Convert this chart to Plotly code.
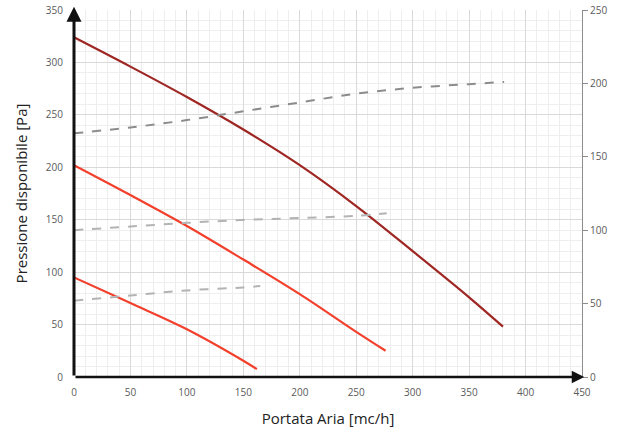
import plotly.graph_objects as go

# Pressure curves (left axis, Pa)
x_high = [0, 50, 100, 150, 200, 250, 300, 350, 380]
p_high = [324, 296, 267, 236, 202, 163, 120, 76, 48]

x_mid = [0, 50, 100, 150, 200, 250, 276]
p_mid = [202, 173.5, 144, 112, 79, 43, 25]

x_low = [0, 50, 100, 150, 162]
p_low = [95, 70.5, 45.5, 15.5, 7.5]

# Dashed curves (right axis)
x_d_high = [0, 50, 100, 150, 200, 250, 300, 350, 381]
d_high = [166, 170, 175, 181, 187, 193, 197, 199.5, 201]

x_d_mid = [0, 50, 100, 150, 200, 250, 277]
d_mid = [100, 102.5, 105, 107, 108.3, 109.8, 111.5]

x_d_low = [0, 50, 100, 150, 165]
d_low = [52, 55.5, 59, 61, 62]

x_ticks = [0, 50, 100, 150, 200, 250, 300, 350, 400, 450]
y_ticks = [0, 50, 100, 150, 200, 250, 300, 350]
y2_ticks = [0, 50, 100, 150, 200, 250]

DARK = "#9e2623"
RED = "#f2402c"

fig = go.Figure()

fig.add_trace(go.Scatter(x=x_d_high, y=d_high, yaxis="y2", mode="lines",
                         line=dict(color="#8c8c8c", width=2, dash="dash", shape="spline"),
                         showlegend=False))
fig.add_trace(go.Scatter(x=x_d_mid, y=d_mid, yaxis="y2", mode="lines",
                         line=dict(color="#b3b3b3", width=2, dash="dash", shape="spline"),
                         showlegend=False))
fig.add_trace(go.Scatter(x=x_d_low, y=d_low, yaxis="y2", mode="lines",
                         line=dict(color="#b3b3b3", width=2, dash="dash", shape="spline"),
                         showlegend=False))

fig.add_trace(go.Scatter(x=x_high, y=p_high, mode="lines",
                         line=dict(color=DARK, width=2.2, shape="spline"),
                         showlegend=False))
fig.add_trace(go.Scatter(x=x_mid, y=p_mid, mode="lines",
                         line=dict(color=RED, width=2.2, shape="spline"), showlegend=False))
fig.add_trace(go.Scatter(x=x_low, y=p_low, mode="lines",
                         line=dict(color=RED, width=2.2, shape="spline"), showlegend=False))

tickfont = dict(family="Open Sans", size=10, color="#5a5a5a")

fig.update_layout(
    width=625, height=434,
    margin=dict(l=74, r=43, t=10, b=57),
    paper_bgcolor="white", plot_bgcolor="white",
    font=dict(family="Open Sans"),
    xaxis=dict(range=[0, 450], tickvals=x_ticks, ticktext=[str(v) for v in x_ticks],
               automargin=False,
               showgrid=True, gridcolor="#d9d9d9", gridwidth=1,
               minor=dict(dtick=10, showgrid=True, gridcolor="#eeeeee", gridwidth=1),
               zeroline=False, showline=False, ticks="", tickfont=tickfont,
               ticklabelstandoff=8,
               title=dict(text="Portata Aria [mc/h]", standoff=15,
                          font=dict(family="Open Sans", size=15, color="#222222"))),
    yaxis=dict(range=[0, 350], tickvals=y_ticks, ticktext=[str(v) for v in y_ticks],
               automargin=False,
               showgrid=True, gridcolor="#d9d9d9", gridwidth=1,
               minor=dict(dtick=10, showgrid=True, gridcolor="#eeeeee", gridwidth=1),
               zeroline=False, showline=False, ticks="", tickfont=tickfont,
               ticklabelstandoff=10,
               title=dict(text="Pressione disponibile [Pa]", standoff=14,
                          font=dict(family="Open Sans", size=15, color="#222222"))),
    yaxis2=dict(range=[0, 250], tickvals=y2_ticks, ticktext=[str(v) for v in y2_ticks],
                overlaying="y", side="right", showgrid=False, zeroline=False,
                automargin=False,
                showline=True, linecolor="#8c8c8c", linewidth=1,
                ticks="outside", ticklen=5, tickcolor="#8c8c8c", tickfont=tickfont),
)

# Axis arrows
fig.add_annotation(x=0, y=353, ax=0, ay=0, xref="x", yref="y", axref="x", ayref="y",
                   showarrow=True, arrowhead=2, arrowsize=1, arrowwidth=3,
                   arrowcolor="#111111", text="")
fig.add_annotation(x=452, y=0, ax=0, ay=0, xref="x", yref="y", axref="x", ayref="y",
                   showarrow=True, arrowhead=2, arrowsize=1, arrowwidth=2.5,
                   arrowcolor="#111111", text="")

fig.write_html("out.html", config={"displayModeBar": False},
               post_script="document.body.style.margin='0';")
